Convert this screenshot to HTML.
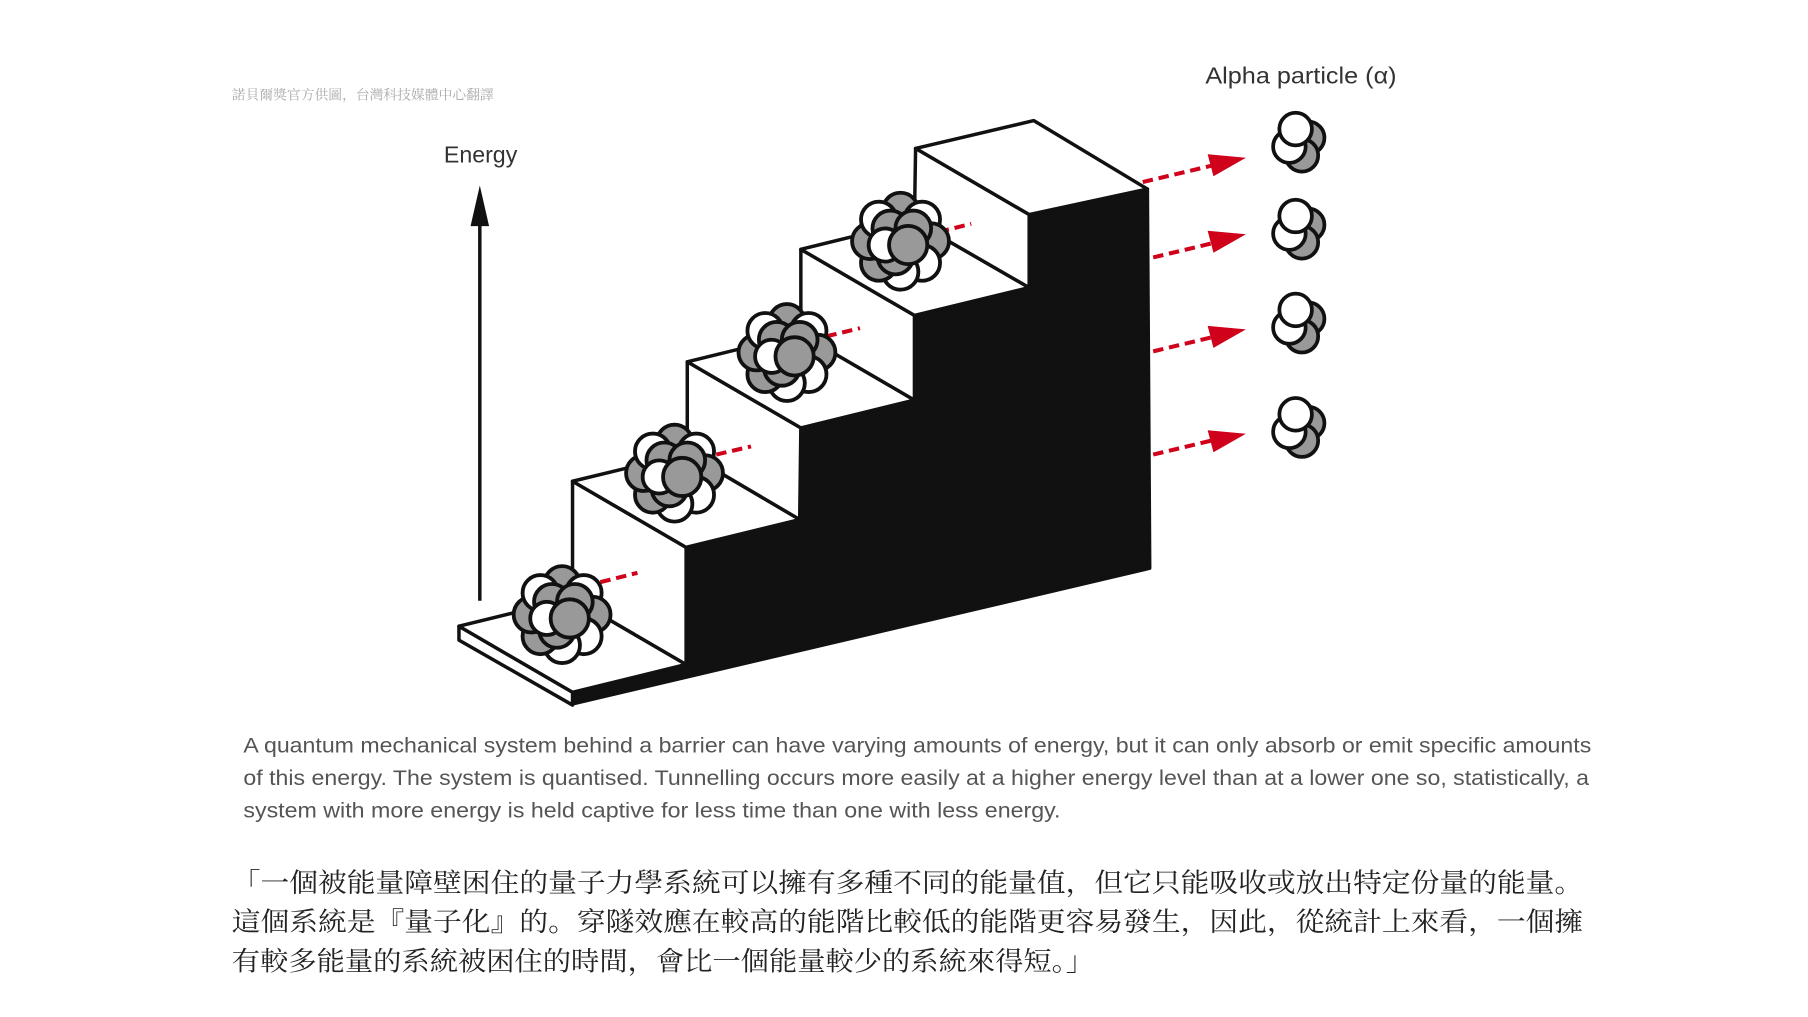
<!DOCTYPE html>
<html><head><meta charset="utf-8"><style>
html,body{margin:0;padding:0;background:#fff;}
svg{display:block;}
</style></head><body>
<svg width="1808" height="1017" viewBox="0 0 1560 877" preserveAspectRatio="none" xmlns="http://www.w3.org/2000/svg">
<defs>
<g id="nuc" stroke="#111" stroke-width="3">
  <circle cx="0" cy="-24" r="14" fill="#999"/>
  <circle cx="17" cy="-17" r="14" fill="#fff"/>
  <circle cx="24" cy="0" r="14" fill="#999"/>
  <circle cx="17" cy="17" r="14" fill="#fff"/>
  <circle cx="0" cy="24" r="14" fill="#fff"/>
  <circle cx="-17" cy="17" r="14" fill="#999"/>
  <circle cx="-24" cy="0" r="14" fill="#999"/>
  <circle cx="-17" cy="-17" r="14" fill="#fff"/>
  <circle cx="-8" cy="-10" r="14" fill="#999"/>
  <circle cx="10" cy="-10" r="14" fill="#999"/>
  <circle cx="-4" cy="12" r="14" fill="#999"/>
  <circle cx="-12" cy="3" r="13" fill="#fff"/>
  <circle cx="6" cy="3" r="15" fill="#999"/>
</g>
<g id="alpha" stroke="#111" stroke-width="3">
  <circle cx="9" cy="-2" r="13" fill="#999"/>
  <circle cx="4" cy="12" r="13" fill="#999"/>
  <circle cx="-6" cy="5" r="13" fill="#fff"/>
  <circle cx="-1" cy="-9" r="13" fill="#fff"/>
</g>
</defs>

<text x="200" y="86" font-family="Liberation Serif, 'Noto Serif CJK SC', serif" font-size="12" fill="#aaa" textLength="226" lengthAdjust="spacingAndGlyphs">諾貝爾獎官方供圖，台灣科技媒體中心翻譯</text>
<text x="1040" y="72" font-family="Liberation Sans, sans-serif" font-size="20" fill="#333" textLength="165" lengthAdjust="spacingAndGlyphs">Alpha particle (α)</text>
<text x="383" y="140" font-family="Liberation Sans, sans-serif" font-size="20" fill="#333">Energy</text>

<line x1="414" y1="518" x2="414" y2="190" stroke="#111" stroke-width="3"/>
<polygon points="414,160 406,195 422,195" fill="#111"/>

<g stroke="#111" stroke-width="3" stroke-linejoin="round">
<polygon points="592,472 690,448 690,369 789,345 789,272 888,248 888,185 990,163 992,490 494,607 494,597 592,574" fill="#111"/>
<polygon points="396,540 396,552 494,608 494,597" fill="#fff"/>
<polygon points="396,540 494,516 592,573 494,597" fill="#fff"/>
<polygon points="494,415 592,472 592,573 494,516" fill="#fff"/>
<polygon points="494,415 593,391 690,448 592,472" fill="#fff"/>
<polygon points="593,312 691,369 690,448 593,391" fill="#fff"/>
<polygon points="593,312 691,288 789,345 691,369" fill="#fff"/>
<polygon points="691,215 789,272 789,345 691,288" fill="#fff"/>
<polygon points="691,215 789,191 888,248 789,272" fill="#fff"/>
<polygon points="790,128 888,185 888,248 789,191" fill="#fff"/>
<polygon points="790,128 892,104 990,163 888,185" fill="#fff"/>
</g>

<g stroke="#d0021b" stroke-width="3.5" stroke-dasharray="9,5">
<line x1="518" y1="502" x2="550" y2="494"/>
<line x1="618" y1="392" x2="648" y2="385"/>
<line x1="713" y1="290" x2="742" y2="283"/>
<line x1="810" y1="200" x2="838" y2="193"/>
<line x1="986" y1="157" x2="1045" y2="143"/>
<line x1="995" y1="222" x2="1045" y2="210"/>
<line x1="995" y1="303" x2="1045" y2="291"/>
<line x1="995" y1="392" x2="1045" y2="380"/>
</g>
<g fill="#d0021b">
<polygon points="1075,136 1042,133 1047,152"/>
<polygon points="1075,202 1042,199 1047,218"/>
<polygon points="1075,284 1042,281 1047,300"/>
<polygon points="1075,374 1042,371 1047,390"/>
</g>

<use href="#nuc" transform="translate(485,530) scale(1.1)"/>
<use href="#nuc" transform="translate(582,408) scale(1.1)"/>
<use href="#nuc" transform="translate(679,304) scale(1.1)"/>
<use href="#nuc" transform="translate(777,208) scale(1.1)"/>

<use href="#alpha" transform="translate(1119,121) scale(1.08)"/>
<use href="#alpha" transform="translate(1119,196) scale(1.08)"/>
<use href="#alpha" transform="translate(1119,277) scale(1.08)"/>
<use href="#alpha" transform="translate(1119,367) scale(1.08)"/>

<g font-family="Liberation Sans, sans-serif" font-size="18" fill="#555">
<text x="210" y="649" textLength="1163" lengthAdjust="spacingAndGlyphs">A quantum mechanical system behind a barrier can have varying amounts of energy, but it can only absorb or emit specific amounts</text>
<text x="210" y="677" textLength="1161" lengthAdjust="spacingAndGlyphs">of this energy. The system is quantised. Tunnelling occurs more easily at a higher energy level than at a lower one so, statistically, a</text>
<text x="210" y="705" textLength="705" lengthAdjust="spacingAndGlyphs">system with more energy is held captive for less time than one with less energy.</text>
</g>
<g font-family="'Liberation Serif', 'Noto Serif CJK SC', serif" font-size="23" fill="#222">
<text x="200" y="769" textLength="1166" lengthAdjust="spacingAndGlyphs">「一個被能量障壁困住的量子力學系統可以擁有多種不同的能量值，但它只能吸收或放出特定份量的能量。</text>
<text x="200" y="803" textLength="1166" lengthAdjust="spacingAndGlyphs">這個系統是『量子化』的。穿隧效應在較高的能階比較低的能階更容易發生，因此，從統計上來看，一個擁</text>
<text x="200" y="837" textLength="744" lengthAdjust="spacingAndGlyphs">有較多能量的系統被困住的時間，會比一個能量較少的系統來得短。」</text>
</g>
</svg>
</body></html>
